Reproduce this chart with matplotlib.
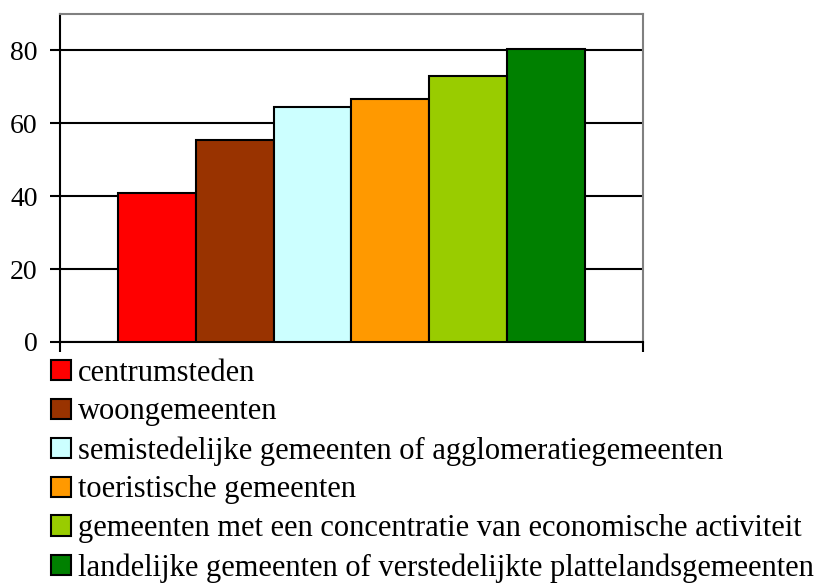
import matplotlib.pyplot as plt
from matplotlib.patches import Patch

categories = ['centrumsteden', 'woongemeenten',
              'semistedelijke gemeenten of agglomeratiegemeenten',
              'toeristische gemeenten',
              'gemeenten met een concentratie van economische activiteit',
              'landelijke gemeenten of verstedelijkte plattelandsgemeenten']
values = [40.8, 55.5, 64.6, 66.7, 73.1, 80.3]
colors = ['#FF0000', '#993300', '#CCFFFF', '#FF9900', '#99CC00', '#008000']
yticks = [0, 20, 40, 60, 80]

plt.rcParams['font.family'] = ['Liberation Serif', 'DejaVu Serif']

fig = plt.figure(figsize=(8.22, 5.87), dpi=100)
ax = fig.add_axes([0.073, 0.4174, 0.7092, 0.5588])

x = list(range(len(values)))
ax.bar(x, values, width=1.0, color=colors, edgecolor='black', linewidth=1.5, zorder=3)

xmin, xmax = -1.245, 6.245
ax.set_xlim(xmin, xmax)
ax.set_ylim(0, 90)
ax.set_yticks(yticks)
ax.set_xticks([xmin, xmax])
ax.set_xticklabels([])
ax.tick_params(axis='y', direction='out', length=7, width=1.5, labelsize=20, pad=9)
ax.tick_params(axis='x', direction='out', length=7, width=1.5)
ax.yaxis.grid(True, color='black', linewidth=1.5)
ax.set_axisbelow(True)

for s in ['left', 'bottom']:
    ax.spines[s].set_color('black')
    ax.spines[s].set_linewidth(1.5)
for s in ['top', 'right']:
    ax.spines[s].set_color('#808080')
    ax.spines[s].set_linewidth(1.5)

handles = [Patch(facecolor=c, edgecolor='black', linewidth=1.5) for c in colors]
fig.legend(handles, categories, loc='upper left', bbox_to_anchor=(0.0623, 0.389),
           frameon=False, fontsize=22, handlelength=0.65, handleheight=0.65,
           handletextpad=0.23, labelspacing=0.32, borderaxespad=0, borderpad=0)

fig.savefig('out.png', dpi=100)
